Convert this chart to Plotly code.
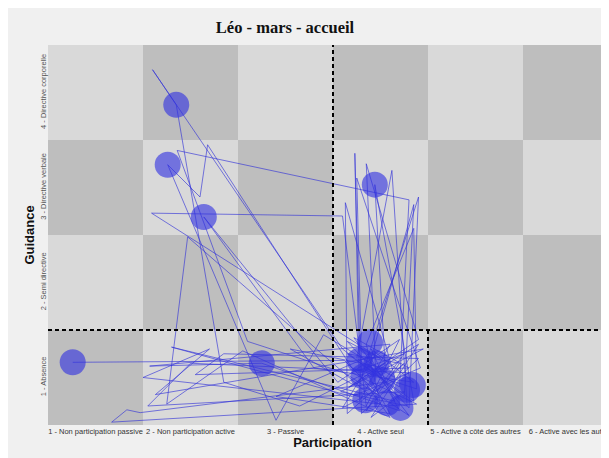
import plotly.graph_objects as go

# ---- data ----
participation_labels = ["1 - Non participation passive", "2 - Non participation active", "3 - Passive",
                        "4 - Active seul", "5 - Active à côté des autres", "6 - Active avec les autres"]
guidance_labels = ["1 - Absence", "2 - Semi directive", "3 - Directive verbale", "4 - Directive corporelle"]

path_x = [0.76, 3.62, 3.95, 4.25, 3.70, 4.38, 1.17, 1.33, 1.47, 4.05, 3.72, 4.30, 2.05, 2.35, 4.40, 3.80,
          3.73, 3.78, 4.10, 1.57, 2.75, 4.20, 3.90, 4.35, 4.25, 3.60, 1.60, 1.85, 2.35, 3.15, 4.05, 3.67,
          4.40, 3.85, 3.95, 4.30, 3.62, 2.60, 1.86, 4.30, 4.20, 3.75, 4.12, 4.28, 3.58, 4.45, 1.63, 2.20,
          1.50, 4.00, 3.85, 4.35, 4.38, 3.70, 2.18, 2.10, 1.76, 2.90, 3.40, 4.15, 3.63, 3.65, 4.25, 3.90,
          1.97, 1.75, 2.55, 4.10, 3.80, 4.40, 4.30, 3.65, 4.00, 1.59, 3.60, 3.85, 4.20, 3.55, 2.14, 3.30,
          4.35, 3.90, 4.15, 1.80, 3.70, 4.42, 3.75, 3.80, 4.10, 2.90, 3.95, 3.60, 4.30, 2.00, 1.55, 4.25,
          3.90, 4.40, 3.72, 3.05, 4.05, 3.94, 4.35, 3.65, 4.20, 3.85, 4.00]
path_y = [1.16, 1.18, 0.85, 1.25, 1.05, 0.72, 0.53, 0.66, 0.63, 0.95, 1.42, 1.10, 1.03, 1.25, 1.20, 0.62,
          3.36, 0.75, 1.35, 1.12, 1.15, 0.65, 1.20, 2.82, 0.80, 1.30, 4.24, 3.87, 0.95, 0.70, 1.15, 0.90,
          1.40, 3.25, 1.05, 0.60, 1.05, 1.38, 3.39, 2.87, 0.90, 1.20, 3.18, 0.70, 0.85, 1.30, 0.82, 1.30,
          1.00, 0.72, 1.35, 2.57, 0.88, 1.10, 3.45, 2.90, 3.24, 0.55, 1.45, 1.00, 2.84, 0.62, 1.15, 0.80,
          2.48, 0.72, 1.28, 0.58, 1.00, 2.90, 0.68, 1.38, 1.20, 2.73, 2.70, 0.70, 1.40, 0.95, 2.69, 1.10,
          0.95, 1.30, 0.75, 1.32, 0.80, 1.10, 3.10, 1.15, 0.62, 0.80, 1.25, 0.68, 1.05, 1.15, 0.70, 0.85,
          0.58, 1.35, 0.92, 1.30, 1.10, 3.03, 0.75, 1.25, 1.15, 0.65, 0.90]

circle_x = [0.76, 1.85, 1.76, 2.14, 2.75, 3.94, 3.89, 3.78, 3.96, 3.82, 4.02, 4.28, 3.84, 4.07, 4.21, 4.34]
circle_y = [1.16, 3.87, 3.24, 2.69, 1.15, 3.03, 1.37, 1.18, 1.15, 1.01, 0.97, 0.87, 0.76, 0.73, 0.68, 0.92]

# checkerboard cells
cell_x = [1, 2, 3, 4, 5, 6]
cell_y = [1, 2, 3, 4]
checker = [[(i + j) % 2 for i in range(6)] for j in range(4)]

# thresholds for dashed reference lines
part_split = 3.5
guid_split = 1.5
box_right = 4.5

fig = go.Figure()
fig.add_trace(go.Heatmap(x=cell_x, y=cell_y, z=checker, showscale=False, hoverinfo="skip",
                         colorscale=[[0, "#bebebe"], [1, "#d9d9d9"]], zmin=0, zmax=1))
fig.add_trace(go.Scatter(x=path_x, y=path_y, mode="lines", hoverinfo="skip",
                         line=dict(color="rgba(50,50,215,0.8)", width=0.8)))
fig.add_trace(go.Scatter(x=circle_x, y=circle_y, mode="markers", hoverinfo="skip",
                         marker=dict(size=26, color="rgba(50,50,225,0.62)", line=dict(width=0))))

dash = dict(color="black", width=2, dash="4px,3px")
fig.add_shape(type="line", x0=part_split, x1=part_split, y0=0.5, y1=4.52, xref="x", yref="y", line=dash, layer="above")
fig.add_shape(type="line", x0=0.5, x1=6.5, y0=guid_split, y1=guid_split, xref="x", yref="y", line=dash, layer="above")
fig.add_shape(type="line", x0=box_right, x1=box_right, y0=0.5, y1=guid_split, xref="x", yref="y", line=dash, layer="above")

fig.update_layout(
    width=609, height=458,
    margin=dict(l=40, r=0, t=37, b=41, autoexpand=False),
    paper_bgcolor="#f0f0f0", plot_bgcolor="#f0f0f0",
    showlegend=False,
    title=dict(text="<b>Léo - mars - accueil</b>", x=277 / 609, xanchor="center", xref="container",
               y=1 - 19 / 458, yanchor="middle", yref="container",
               font=dict(family="Liberation Serif", size=16.5, color="#111")),
    font=dict(family="Liberation Sans", color="#333"),
)
fig.update_xaxes(range=[0.5, 0.5 + 569 / 95], tickvals=cell_x, ticktext=participation_labels,
                 tickangle=0, automargin=False,
                 showgrid=False, zeroline=False, ticks="", tickfont=dict(size=7.5, color="#333"),
                 title=dict(text="<b>Participation</b>", font=dict(size=13, color="#111"), standoff=2))
fig.update_yaxes(range=[0.5, 4.5], tickvals=cell_y, ticktext=guidance_labels, tickangle=-90,
                 automargin=False,
                 showgrid=False, zeroline=False, ticks="", tickfont=dict(size=7.5, color="#555"),
                 title=dict(text="<b>Guidance</b>", font=dict(size=13, color="#111"), standoff=0))

fig.write_html("out.html")
